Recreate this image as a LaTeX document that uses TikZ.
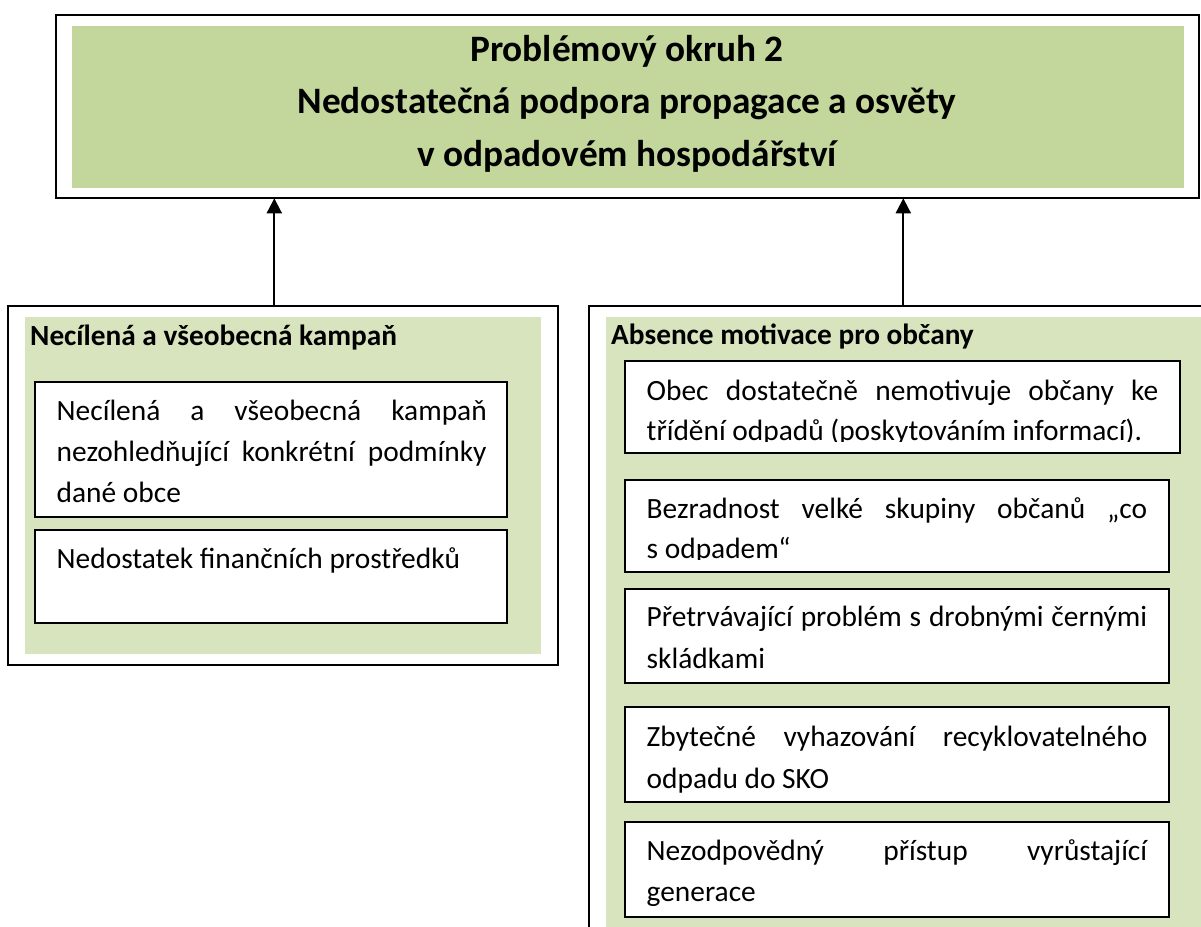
\documentclass[tikz,border=0pt]{standalone}
\usepackage{fontspec}
\setmainfont{Carlito}
\usetikzlibrary{arrows.meta}
\definecolor{greenA}{HTML}{C3D69B}
\definecolor{greenB}{HTML}{D7E4BD}
\begin{document}
\begin{tikzpicture}[x=1pt,y=-1pt,
  frame/.style={draw=black, line width=2pt, fill=white, inner sep=0pt, outer sep=0pt, anchor=north west},
  panel/.style={fill=#1, draw=none, inner sep=0pt, outer sep=0pt, anchor=north west},
  itembox/.style={draw=black, line width=2pt, fill=white, inner sep=0pt, outer sep=0pt, anchor=north west},
  titletext/.style={font=\fontsize{37.3}{53}\selectfont\bfseries, anchor=base, inner sep=0pt},
  headtext/.style={font=\fontsize{29.3}{41}\selectfont\bfseries, anchor=base west, inner sep=0pt},
  bodytext/.style={font=\fontsize{29.4}{41}\selectfont, anchor=base west, inner sep=0pt},
  arr/.style={line width=2pt, -{Triangle[length=15pt,width=15pt]}}]
\useasboundingbox (0,0) rectangle (1201,926);
\clip (0,0) rectangle (1201,926);

% top box
\node[frame, minimum width=1143.3pt, minimum height=183.3pt] (tframe) at (55.7,15) {};
\node[panel=greenA, minimum width=1112pt, minimum height=161.7pt] (tpanel) at (72,26) {};
\node[titletext] (t1) at (627,61) {Problémový okruh 2};
\node[titletext] (t2) at (627,113) {Nedostatečná podpora propagace a osvěty};
\node[titletext] (t3) at (627,166) {v odpadovém hospodářství};

% left box
\node[frame, minimum width=549.3pt, minimum height=359.3pt] (lframe) at (8.4,305.7) {};
\node[panel=greenB, minimum width=516pt, minimum height=337.3pt] (lpanel) at (25,316.7) {};
\node[headtext] (lhead) at (30,345) {Necílená a všeobecná kampaň};
\node[itembox, minimum width=472pt, minimum height=135pt] (l1) at (35,381.7) {};
\node[bodytext] (l1a) at (56.5,420) {\makebox[430pt][s]{Necílená a všeobecná kampaň}};
\node[bodytext] (l1b) at (56.5,461.5) {\makebox[430pt][s]{nezohledňující konkrétní podmínky}};
\node[bodytext] (l1c) at (56.5,502) {dané obce};
\node[itembox, minimum width=472pt, minimum height=92.7pt] (l2) at (35,530) {};
\node[bodytext] (l2a) at (56.5,568.3) {Nedostatek finančních prostředků};

% right box
\node[frame, minimum width=626pt, minimum height=640pt] (rframe) at (589,305.7) {};
\node[panel=greenB, minimum width=620pt, minimum height=630pt] (rpanel) at (606,317) {};
\node[headtext] (rhead) at (611,344.3) {Absence motivace pro občany};

\node[itembox, minimum width=555.4pt, minimum height=91.7pt] (r1) at (625,361) {};
\node[bodytext] (r1a) at (646.5,400) {\makebox[511.5pt][s]{Obec dostatečně nemotivuje občany ke}};
\begin{scope}
  \clip (625,361) rectangle (1181,441.7);
  \node[bodytext] (r1b) at (646.5,440) {třídění odpadů (poskytováním informací).};
\end{scope}

\node[itembox, minimum width=544pt, minimum height=91.7pt] (r2) at (625,480) {};
\node[bodytext] (r2a) at (646.5,518.3) {\makebox[500.5pt][s]{Bezradnost velké skupiny občanů „co}};
\begin{scope}
  \clip (625,480) rectangle (1169,559.3);
  \node[bodytext] (r2b) at (646.5,558.3) {s odpadem“};
\end{scope}

\node[itembox, minimum width=544pt, minimum height=93.7pt] (r3) at (625,589) {};
\node[bodytext] (r3a) at (646.5,626.7) {\makebox[500.5pt][s]{Přetrvávající problém s drobnými černými}};
\node[bodytext] (r3b) at (646.5,668) {skládkami};

\node[itembox, minimum width=544pt, minimum height=94.4pt] (r4) at (625,707.3) {};
\node[bodytext] (r4a) at (646.5,746.7) {\makebox[500.5pt][s]{Zbytečné vyhazování recyklovatelného}};
\node[bodytext] (r4b) at (646.5,788) {odpadu do SKO};

\node[itembox, minimum width=544pt, minimum height=95.6pt] (r5) at (625,821.7) {};
\node[bodytext] (r5a) at (646.5,860) {\makebox[500.5pt][s]{Nezodpovědný přístup vyrůstající}};
\node[bodytext] (r5b) at (646.5,901.7) {generace};

% arrows
\coordinate (la) at ([xshift=-8.75pt]lframe.north);
\coordinate (ra) at ([xshift=1.3pt]rframe.north);
\draw[arr] (la) -- (la |- tframe.south);
\draw[arr] (ra) -- (ra |- tframe.south);
\end{tikzpicture}
\end{document}
